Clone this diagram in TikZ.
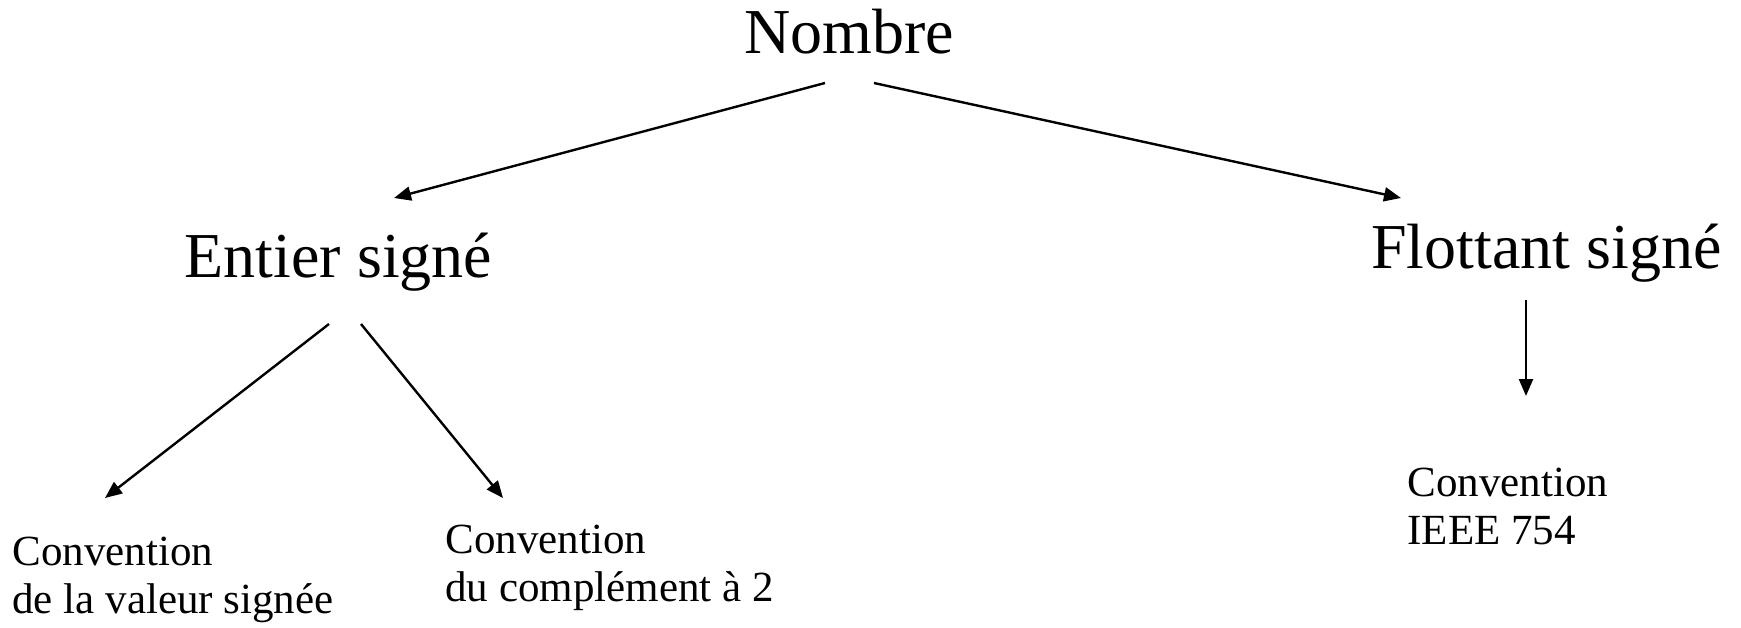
\documentclass[tikz,border=0pt]{standalone}
\usepackage{fontspec}
\setmainfont{Liberation Serif}
\usetikzlibrary{arrows.meta}

\tikzset{
  bigtext/.style={inner sep=0pt, font=\fontsize{32}{38}\selectfont},
  smalltext/.style={inner sep=0pt, align=left, anchor=base west,
    font=\fontsize{21.5}{24}\selectfont},
  link/.style={line width=1.2pt, -{Triangle[length=8.5pt,width=7pt]}}
}

\begin{document}
\begin{tikzpicture}[x=0.5pt, y=-0.5pt]
  \useasboundingbox (0,0) rectangle (1741,627);

  % tree nodes
  \node[bigtext, anchor=base] (nombre)   at (849,53)    {Nombre};
  \node[bigtext, anchor=base] (entier)   at (338.5,277) {Entier signé};
  \node[bigtext, anchor=base] (flottant) at (1546.5,268) {Flottant signé};

  % two-line leaves, placed by the baseline of their last line
  \node[smalltext] (valeur)  at (12,613)   {Convention\\de la valeur signée};
  \node[smalltext] (complem) at (445,601)  {Convention\\du complément à 2};
  \node[smalltext] (ieee)    at (1407,544) {Convention\\IEEE 754};

  % connectors
  \draw[link] ([shift={(-24,30)}]nombre.base) -- ([shift={(55.5,-79)}]entier.base);
  \draw[link] ([shift={(25,30)}]nombre.base) -- ([shift={(-145.5,-70)}]flottant.base);
  \draw[link] ([shift={(-9.5,47)}]entier.base) -- ([shift={(93,-115)}]valeur.base west);
  \draw[link] ([shift={(22.5,47)}]entier.base) -- ([shift={(58,-103)}]complem.base west);
  \draw[link] ([shift={(-20.5,32)}]flottant.base) -- ([shift={(119,-148)}]ieee.base west);
\end{tikzpicture}
\end{document}
